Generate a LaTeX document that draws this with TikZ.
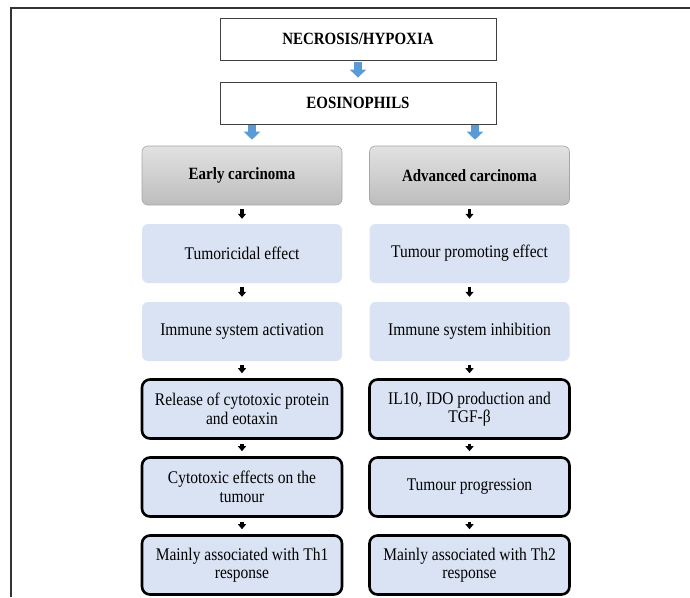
\documentclass[tikz,border=0pt]{standalone}
\usepackage{fontspec}
\setmainfont{Liberation Serif}[FakeStretch=0.87]
\usetikzlibrary{arrows.meta,calc}
\definecolor{lightbox}{HTML}{DAE3F3}
\definecolor{arrblue}{HTML}{5B9BD5}
\definecolor{greyedge}{HTML}{A6A6A6}
\definecolor{greytop}{HTML}{E2E2E2}
\definecolor{greybot}{HTML}{BDBDBD}
\begin{document}
\begin{tikzpicture}[x=1pt,y=-1pt,
  topbox/.style={draw=black!75, line width=0.8pt, fill=white, minimum width=276pt, minimum height=42pt,
    inner sep=0pt, font=\fontsize{17.2}{19}\selectfont\bfseries},
  stagebox/.style={draw=greyedge, line width=0.6pt, rounded corners=6pt, top color=greytop, bottom color=greybot,
    minimum width=200pt, minimum height=59pt, inner sep=0pt, font=\fontsize{17.2}{19}\selectfont\bfseries},
  softbox/.style={fill=lightbox, rounded corners=6pt, minimum width=200pt, minimum height=59pt, inner sep=0pt,
    align=center, font=\fontsize{17.8}{18.5}\selectfont},
  hardbox/.style={softbox, draw=black, line width=2.6pt, rounded corners=8pt},
  bluearr/.style={draw=arrblue, line width=8pt, -{Triangle[width=16pt,length=8pt]}},
  blackarr/.style={draw=black, line width=3.5pt, -{Triangle[width=8pt,length=5pt]}, shorten <=4pt, shorten >=5pt},
]
\useasboundingbox (0,0) rectangle (690,597);
\draw[line width=1.6pt, black!80] (11,597) -- (11,8) -- (690,8);

\node[topbox] (nec) at (358,39) {NECROSIS/HYPOXIA};
\node[topbox] (eos) at (358,103) {EOSINOPHILS};

\node[stagebox] (early) at (242,175.5) {Early carcinoma};
\node[stagebox] (adv) at (469.5,175.5) {Advanced carcinoma};

\node[softbox] (l1) at (242,253.5) {Tumoricidal effect};
\node[softbox] (l2) at (242,331.5) {Immune system activation};
\node[hardbox] (l3) at (242,409) {Release of cytotoxic protein\\and eotaxin};
\node[hardbox] (l4) at (242,487) {Cytotoxic effects on the\\tumour};
\node[hardbox] (l5) at (242,565) {Mainly associated with Th1\\response};

\node[softbox] (r1) at (469.5,253.5) {Tumour promoting effect};
\node[softbox] (r2) at (469.5,331.5) {Immune system inhibition};
\node[hardbox] (r3) at (469.5,409) {IL10, IDO production and\\TGF-β};
\node[hardbox] (r4) at (469.5,487) {Tumour progression};
\node[hardbox] (r5) at (469.5,565) {Mainly associated with Th2\\response};

\draw[bluearr, shorten <=2pt, shorten >=4pt] (nec.south) -- (eos.north);
\coordinate (eL) at ([xshift=-106pt]eos.south);
\coordinate (eR) at ([xshift=117pt]eos.south);
\draw[bluearr, shorten <=1pt, shorten >=6pt] (eL) -- (eL |- early.north);
\draw[bluearr, shorten <=1pt, shorten >=6pt] (eR) -- (eR |- adv.north);

\foreach \a/\b in {early/l1,l1/l2,l2/l3,l3/l4,l4/l5,adv/r1,r1/r2,r2/r3,r3/r4,r4/r5}
  \draw[blackarr] (\a.south) -- (\b.north);
\end{tikzpicture}
\end{document}
